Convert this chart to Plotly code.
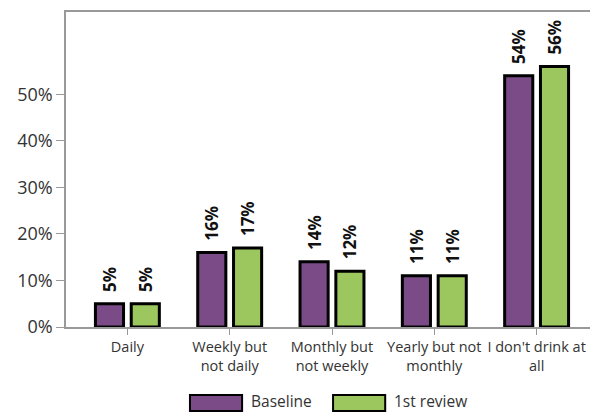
import plotly.graph_objects as go

categories = ['Daily', 'Weekly but<br>not daily', 'Monthly but<br>not weekly',
              'Yearly but not<br>monthly', "I don't drink at<br>all"]
baseline = [5, 16, 14, 11, 54]
first_review = [5, 17, 12, 11, 56]
series_names = ['Baseline', '1st review']

COLORS = {'Baseline': '#7b4b87', '1st review': '#9cc75f'}

fig = go.Figure()
for name, values in zip(series_names, [baseline, first_review]):
    fig.add_trace(go.Bar(
        x=categories,
        y=values,
        name=name,
        marker=dict(color=COLORS[name], line=dict(color='#000000', width=3)),
        # leading non-breaking spaces push the label up off the bar
        texttemplate='\u00a0\u00a0%{y}%',
        textposition='outside',
        textangle=-90,
        constraintext='none',
        textfont=dict(size=17, color='#111111', family='Open Sans', weight='bold'),
        cliponaxis=False,
        showlegend=False,
    ))

# legend drawn by hand so the keys come out as wide boxes
legend_x = [0.233, 0.502]
for name, x0 in zip(series_names, legend_x):
    fig.add_shape(type='rect', xref='paper', yref='paper',
                  x0=x0, x1=x0 + 0.098, y0=-0.267, y1=-0.216,
                  fillcolor=COLORS[name], line=dict(color='#000000', width=2))
    fig.add_annotation(xref='paper', yref='paper', x=x0 + 0.113, y=-0.2365,
                       text=name, showarrow=False, xanchor='left', yanchor='middle',
                       borderpad=0,
                       font=dict(size=15.5, color='#333333', family='Open Sans'))

# the page body adds an 8px margin, so the figure is 8px smaller each way
fig.update_layout(
    barmode='group',
    bargap=0.30,
    bargroupgap=0.215,
    plot_bgcolor='white',
    paper_bgcolor='white',
    width=590,
    height=404,
    margin=dict(l=58, r=0, t=4, b=85, autoexpand=False),
    font=dict(family='Open Sans', color='#333333'),
    xaxis=dict(
        range=[-0.6, 4.6],
        automargin=False,
        showline=True, linecolor='#999999', linewidth=1.5, mirror=True,
        ticks='outside', ticklen=6, tickcolor='#999999',
        tickfont=dict(size=14.5, color='#333333'),
    ),
    yaxis=dict(
        range=[0, 67.7],
        automargin=False,
        tickvals=[0, 10, 20, 30, 40, 50],
        ticktext=['0%', '10%', '20%', '30%', '40%', '50%'],
        showgrid=False, zeroline=False,
        showline=True, linecolor='#999999', linewidth=1.5,
        ticks='outside', ticklen=8, tickcolor='#999999',
        tickfont=dict(size=18, color='#333333'),
    ),
)

fig.write_html('out.html')
